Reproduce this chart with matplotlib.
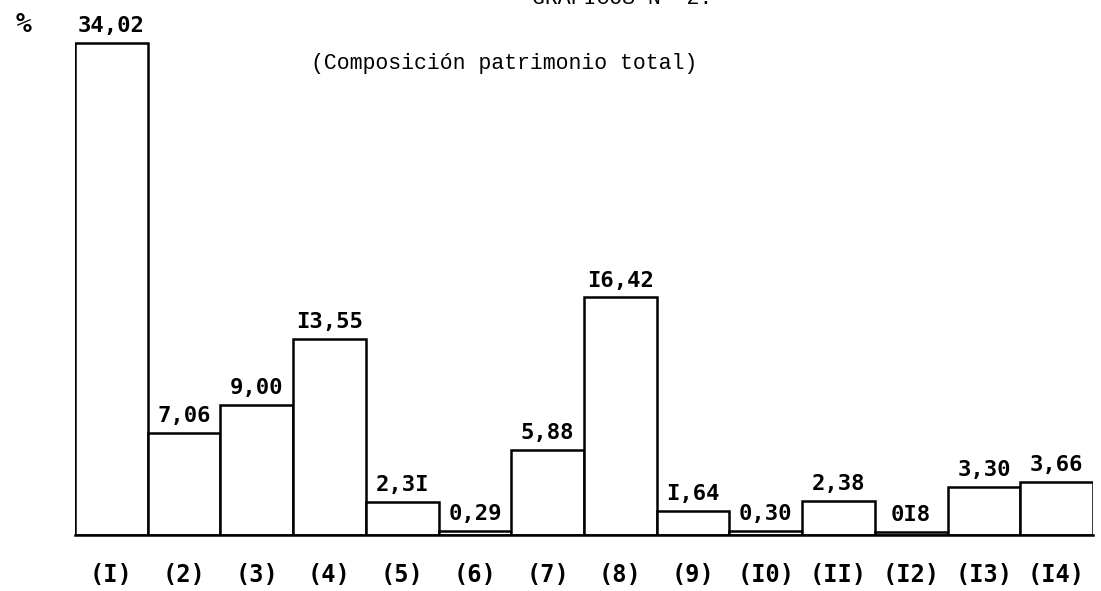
import numpy as np
import matplotlib
matplotlib.use("Agg")
import matplotlib.pyplot as plt

# Composición patrimonio total (%)
categories = ["(I)", "(2)", "(3)", "(4)", "(5)", "(6)", "(7)",
              "(8)", "(9)", "(I0)", "(II)", "(I2)", "(I3)", "(I4)"]
values = [34.02, 7.06, 9.00, 13.55, 2.31, 0.29, 5.88,
          16.42, 1.64, 0.30, 2.38, 0.18, 3.30, 3.66]
value_labels = ["34,02", "7,06", "9,00", "I3,55", "2,3I", "0,29", "5,88",
                "I6,42", "I,64", "0,30", "2,38", "0I8", "3,30", "3,66"]

mono = "Liberation Mono"
bold_mono = "DejaVu Sans Mono"

fig = plt.figure(figsize=(11.01, 5.91), dpi=100)
ax = fig.add_axes([0.0681, 0.0948, 0.9246, 0.881])

x = np.arange(len(values))
bars = ax.bar(x, values, width=1.0, align="edge", color="white",
              edgecolor="black", linewidth=1.8)

for xi, v, lab in zip(x, values, value_labels):
    ax.annotate(lab, (xi + 0.5, v), xytext=(0, 5), textcoords="offset points",
                ha="center", va="bottom", fontsize=16, fontweight="bold",
                family=bold_mono)

ax.set_xlim(0, len(values))
ax.set_ylim(0, 36)
ax.set_xticks(x + 0.5)
ax.set_xticklabels(categories, fontsize=17, fontweight="bold", family=bold_mono)
ax.tick_params(axis="x", length=0, pad=20)
ax.set_yticks([])
for s in ["top", "left", "right"]:
    ax.spines[s].set_visible(False)
ax.spines["bottom"].set_linewidth(1.8)

fig.text(0.014, 0.957, "%", fontsize=19, fontweight="bold", family=bold_mono,
         ha="left", va="center")
fig.text(0.565, 1.003, "GRAFICOS N° 2.", fontsize=15.5, family=mono,
         ha="center", va="center")
fig.text(0.458, 0.893, "(Composición patrimonio total)", fontsize=15.5,
         family=mono, ha="center", va="center")

fig.savefig("out.png", dpi=100)
